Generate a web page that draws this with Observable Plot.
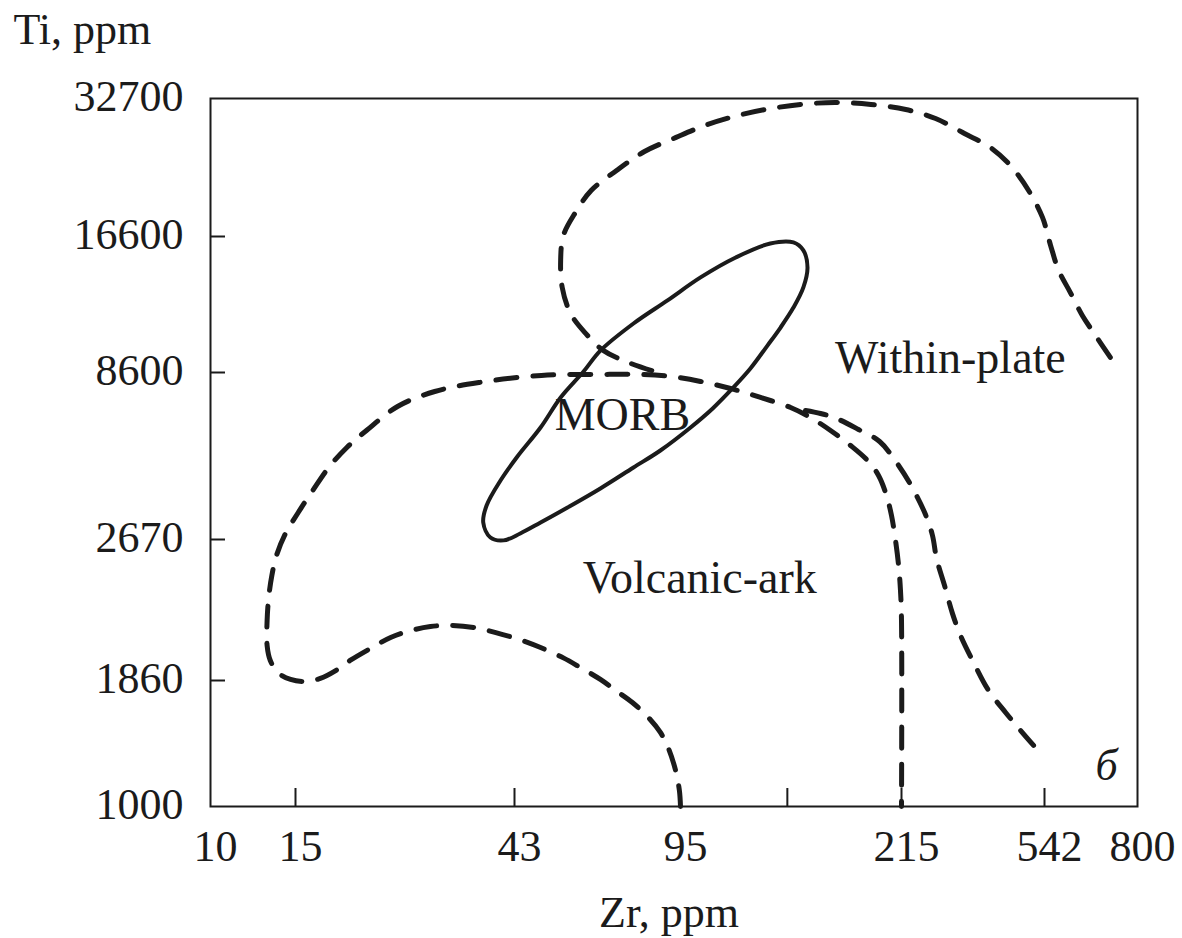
<!DOCTYPE html>
<html>
<head>
<meta charset="utf-8">
<script src="https://cdn.jsdelivr.net/npm/d3@7"></script>
<script src="https://cdn.jsdelivr.net/npm/@observablehq/plot@0.6"></script>
<style>
  html, body { margin: 0; padding: 0; background: #fff; }
</style>
</head>
<body>
<div id="chart"></div>
<script>
// ---- tick values (Zr and Ti, ppm) ----
const zrTickLabels = [10, 15, 43, 95, 215, 542, 800];
const tiTickLabels = [1000, 1860, 2670, 8600, 16600, 32700];
const zrTickMarks = [15, 43, 141, 215, 542];
const tiTickMarks = [1860, 2670, 8600, 16600];

// ---- field boundaries: [Zr, Ti] ----
const withinPlateUpper = [
  [714, 9250], [671, 10290], [635, 11330], [604, 12660], [575, 14090], [556, 15900],
  [535, 18230], [489, 20810], [435, 23520], [382, 25710], [323, 27540], [268, 29640],
  [221, 30980], [192, 31750], [168, 32070], [148, 31750], [130, 30980], [116, 29950],
  [104, 28640], [93, 27010], [80, 25200], [70, 22960], [62, 20810], [57.5, 18670],
  [54.3, 16680], [53.6, 14780], [54, 12980], [56.2, 11440], [60.4, 10390], [65.8, 9560],
  [74, 9030], [84, 8640]
];
const volcanicArc = [
  [95, 1000], [94.5, 1082], [92.8, 1194], [89.7, 1331], [86.3, 1440], [81.5, 1550],
  [75.5, 1669], [69.7, 1771], [64.8, 1865], [58.9, 1923], [54.3, 1971], [48.7, 2024],
  [44.0, 2066], [39.3, 2103], [35.3, 2131], [31.6, 2142], [28.7, 2136], [26.1, 2114],
  [23.7, 2077], [21.5, 2019], [19.5, 1958], [18.2, 1908], [16.9, 1870], [15.7, 1851],
  [14.65, 1865], [13.8, 1898], [13.3, 1958], [13.1, 2035], [13.1, 2169], [13.2, 2301],
  [13.4, 2435], [13.7, 2563], [14.3, 2785], [15.2, 3226], [16.3, 3765], [17.6, 4422],
  [19.2, 5087], [21.1, 5730], [24.5, 6779], [29.3, 7529], [36.3, 8018], [48.9, 8425],
  [64.8, 8483], [78.5, 8483], [90.5, 8365], [102.3, 8077], [114.3, 7690], [127.7, 7220],
  [142.7, 6731], [153.6, 6275], [165.4, 5730], [178.1, 5158], [189.6, 4644], [197.5, 4181],
  [203.4, 3634], [207.2, 3158], [210.3, 2664], [212.7, 2498], [214.2, 2342], [215, 2169],
  [215, 1000]
];
const withinPlateLower = [
  [150.8, 6592], [159.4, 6454], [169.1, 6232], [183.4, 5770], [198.3, 5305], [211.1, 4579],
  [227.9, 3925], [251.1, 3180], [262.7, 2746], [269.7, 2543], [284, 2373], [299, 2208],
  [315, 2087], [340.4, 1958], [377.5, 1771], [421.4, 1589], [464.4, 1454], [505, 1351]
];
const morbField = [
  [132.4, 16050], [144.2, 16130], [149.6, 15520], [151.9, 14290], [149.6, 12980], [144.2, 11770],
  [137.5, 10690], [131, 9796], [123, 8768], [115.5, 7744], [107, 6683], [98.6, 5851],
  [86.3, 4980], [75.9, 4422], [64.8, 3818], [55.4, 3341], [48.7, 3007], [44.2, 2785],
  [40.8, 2664], [38.3, 2707], [37, 3007], [37.6, 3388], [40.2, 4037], [43.6, 4775],
  [48.7, 5851], [53.6, 7220], [59.8, 8640], [64.8, 9560], [75.9, 10900], [89.3, 12190],
  [102.3, 13620], [116.5, 15000]
];

// ---- field names and where they sit (Zr, Ti at text baseline) ----
const fieldNames = ["Within-plate", "MORB", "Volcanic-ark"];
const fieldZr = [295, 72, 102];
const fieldTi = [8540, 5730, 2325];
const panelLetter = ["б"];
const panelZr = [703];
const panelTi = [1137];

const pts = (a) => a.map(([zr, ti]) => ({zr, ti}));
const labels = fieldNames.map((t, i) => ({t, zr: fieldZr[i], ti: fieldTi[i]}));
const letter = panelLetter.map((t, i) => ({t, zr: panelZr[i], ti: panelTi[i]}));

const ink = "#1b1b1b";
const dashed = {x: "zr", y: "ti", stroke: ink, strokeWidth: 5, strokeDasharray: "21,16", curve: "catmull-rom"};

const chart = Plot.plot({
  width: 1182,
  height: 938,
  marginLeft: 210,
  marginRight: 45,
  marginTop: 98,
  marginBottom: 132,
  x: {type: "log", domain: zrTickLabels, range: [210, 295, 514, 680, 901, 1044, 1137]},
  y: {type: "log", domain: tiTickLabels, range: [806, 680, 539, 372, 236, 98]},
  style: {
    fontFamily: "'Liberation Serif', 'DejaVu Serif', serif",
    fontSize: "44px",
    color: ink,
    background: "#fff"
  },
  marks: [
    Plot.frame({stroke: ink, strokeWidth: 2}),
    // inward tick marks
    Plot.axisX(zrTickMarks, {tickSize: -18, fill: null, stroke: ink, strokeWidth: 2}),
    Plot.axisY(tiTickMarks, {tickSize: -15, fill: null, stroke: ink, strokeWidth: 2}),
    // tick labels
    Plot.axisX(zrTickLabels, {tickSize: 0, tickPadding: 23, dx: 5, fontSize: 44, fill: ink,
      label: null, text: (d) => String(d)}),
    Plot.axisY(tiTickLabels, {tickSize: 0, tickPadding: 27, dy: -2, fontSize: 44, fill: ink,
      label: null, text: (d) => String(d)}),
    // axis titles
    Plot.text(["Ti, ppm"], {frameAnchor: "top-left", text: (d) => d, dx: -197, dy: -55,
      textAnchor: "start", lineAnchor: "bottom", fontSize: 44, fill: ink}),
    Plot.text(["Zr, ppm"], {frameAnchor: "bottom", text: (d) => d, dx: -5, dy: 120,
      textAnchor: "middle", lineAnchor: "bottom", fontSize: 44, fill: ink}),
    // field boundaries
    Plot.line(pts(withinPlateUpper), dashed),
    Plot.line(pts(volcanicArc), dashed),
    Plot.line(pts(withinPlateLower), dashed),
    Plot.line(pts(morbField), {x: "zr", y: "ti", stroke: ink, strokeWidth: 4, curve: "catmull-rom-closed"}),
    // field names
    Plot.text(labels, {x: "zr", y: "ti", text: "t", fontSize: 46, lineAnchor: "bottom", fill: ink}),
    Plot.text(letter, {x: "zr", y: "ti", text: "t", fontSize: 44, fontStyle: "italic", lineAnchor: "bottom", fill: ink})
  ]
});
document.getElementById("chart").appendChild(chart);
</script>
</body>
</html>
